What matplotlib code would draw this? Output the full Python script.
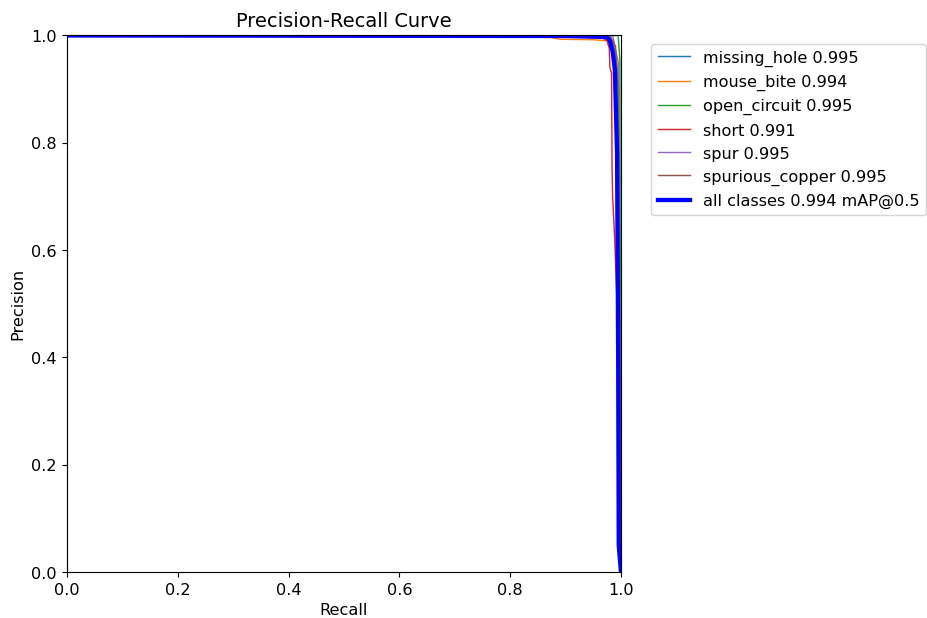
import numpy as np
import matplotlib
matplotlib.use('Agg')
import matplotlib.pyplot as plt

plt.rcParams['font.size'] = 11.3

# class names and mAP@0.5 values
names = ['missing_hole', 'mouse_bite', 'open_circuit', 'short', 'spur', 'spurious_copper']
ap50 = [0.995, 0.994, 0.995, 0.991, 0.995, 0.995]
map50 = 0.994

# per class (recall, precision) points
rec_missing = [0.0, 0.980, 0.990, 0.996, 1.0]
pre_missing = [1.0, 1.000, 0.970, 0.900, 0.0]

rec_mouse = [0.0, 0.860, 0.890, 0.950, 0.975, 0.982, 0.986, 0.990, 1.0]
pre_mouse = [1.0, 0.999, 0.993, 0.992, 0.990, 0.985, 0.950, 0.850, 0.0]

rec_open = [0.0, 0.995, 0.998, 1.0]
pre_open = [1.0, 1.000, 0.955, 0.0]

rec_short = [0.0, 0.960, 0.975, 0.979, 0.980, 0.983, 0.984, 0.985, 0.989, 0.993, 0.996, 1.0]
pre_short = [1.0, 1.000, 0.990, 0.975, 0.940, 0.930, 0.750, 0.700, 0.614, 0.500, 0.100, 0.0]

rec_spur = [0.0, 0.985, 0.995, 1.0]
pre_spur = [1.0, 1.000, 0.950, 0.0]

rec_copper = [0.0, 0.980, 0.990, 0.995, 1.0]
pre_copper = [1.0, 1.000, 0.980, 0.900, 0.0]

# all classes curve
rec_all = [0.0, 0.900, 0.975, 0.980, 0.985, 0.989, 0.993, 0.995, 0.996, 1.0]
pre_all = [1.0, 0.999, 0.997, 0.990, 0.970, 0.937, 0.780, 0.400, 0.050, 0.0]

recalls = [rec_missing, rec_mouse, rec_open, rec_short, rec_spur, rec_copper]
precisions = [pre_missing, pre_mouse, pre_open, pre_short, pre_spur, pre_copper]

fig = plt.figure(figsize=(9, 6), dpi=103.1)
ax = fig.add_axes([0.0722, 0.0744, 0.597, 0.8673])

for i in range(len(names)):
    ax.plot(recalls[i], precisions[i], linewidth=1,
            label='%s %.3f' % (names[i], ap50[i]))
ax.plot(rec_all, pre_all, linewidth=3, color='blue',
        label='all classes %.3f mAP@0.5' % map50)

ax.set_xlabel('Recall')
ax.set_ylabel('Precision')
ax.set_xlim(0, 1)
ax.set_ylim(0, 1)
ax.set_title('Precision-Recall Curve')
ax.legend(bbox_to_anchor=(1.04, 1), loc='upper left')

fig.savefig('out.png', dpi=103.1)
